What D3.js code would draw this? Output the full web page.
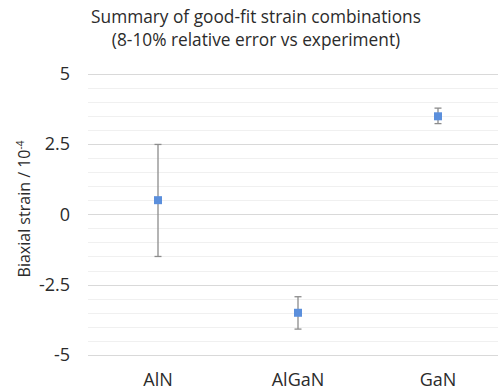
<!DOCTYPE html>
<html>
<head>
<meta charset="utf-8">
<script src="https://cdn.jsdelivr.net/npm/d3@7"></script>
<style>
  html, body { margin: 0; padding: 0; background: #fff; }
  svg { display: block; }
  text { font-family: "Open Sans", "Liberation Sans", sans-serif; fill: #2b2b2b; }
</style>
</head>
<body>
<svg id="chart" width="498" height="392"></svg>
<script>
// Material categories and strain summary (units of 1e-4)
const categories = ["AlN", "AlGaN", "GaN"];
const meanStrain = [0.5, -3.5, 3.48];
const upperStrain = [2.48, -2.93, 3.77];
const lowerStrain = [-1.5, -4.08, 3.22];
const yTicks = [-5, -2.5, 0, 2.5, 5];
const titleLines = ["Summary of good-fit strain combinations", "(8-10% relative error vs experiment)"];

const svg = d3.select("#chart");

const x = d3.scaleBand().domain(categories).range([88, 508]).padding(0);
const y = d3.scaleLinear().domain([-5, 5]).range([355, 73.5]);

// minor gridlines every 0.5
const minor = d3.range(-5, 5.01, 0.5).filter(v => !yTicks.some(t => Math.abs(t - v) < 1e-9));
svg.append("g").selectAll("line").data(minor).join("line")
  .attr("x1", 88).attr("x2", 508)
  .attr("y1", d => Math.round(y(d)) + 0.5).attr("y2", d => Math.round(y(d)) + 0.5)
  .attr("stroke", "#f0f0f0").attr("stroke-width", 1);

// major gridlines
svg.append("g").selectAll("line").data(yTicks).join("line")
  .attr("x1", 88).attr("x2", 508)
  .attr("y1", d => Math.round(y(d)) + 0.5).attr("y2", d => Math.round(y(d)) + 0.5)
  .attr("stroke", "#d9d9d9").attr("stroke-width", 1);

// y axis tick labels
const yAxis = d3.axisLeft(y).tickValues(yTicks).tickSize(0).tickPadding(0)
  .tickFormat(d => String(d));
const gy = svg.append("g").attr("transform", "translate(70,0)").call(yAxis);
gy.select(".domain").remove();
gy.selectAll("text").style("font-size", "18px").attr("fill", "#2b2b2b")
  .style("font-family", "'Open Sans', sans-serif");

// x axis category labels
const xAxis = d3.axisBottom(x).tickSize(0).tickPadding(0);
const gx = svg.append("g").attr("transform", "translate(0,373)").call(xAxis);
gx.select(".domain").remove();
gx.selectAll("text").style("font-size", "18px").attr("fill", "#2b2b2b")
  .style("font-family", "'Open Sans', sans-serif");

const pts = categories.map((c, i) => ({ c, m: meanStrain[i], hi: upperStrain[i], lo: lowerStrain[i] }));
const cx = d => x(d.c) + x.bandwidth() / 2;

// error bars
const eb = svg.append("g").attr("stroke", "#8c8c8c").attr("stroke-width", 1.3);
eb.selectAll("line.v").data(pts).join("line").attr("class", "v")
  .attr("x1", cx).attr("x2", cx).attr("y1", d => y(d.hi)).attr("y2", d => y(d.lo));
eb.selectAll("line.t").data(pts).join("line").attr("class", "t")
  .attr("x1", d => cx(d) - 3.5).attr("x2", d => cx(d) + 3.5)
  .attr("y1", d => y(d.hi)).attr("y2", d => y(d.hi));
eb.selectAll("line.b").data(pts).join("line").attr("class", "b")
  .attr("x1", d => cx(d) - 3.5).attr("x2", d => cx(d) + 3.5)
  .attr("y1", d => y(d.lo)).attr("y2", d => y(d.lo));

// square markers
svg.append("g").selectAll("rect").data(pts).join("rect")
  .attr("x", d => cx(d) - 4).attr("y", d => y(d.m) - 4)
  .attr("width", 8).attr("height", 8)
  .attr("fill", "#5b8fdc");

// title
svg.append("g").selectAll("text").data(titleLines).join("text")
  .attr("x", 256).attr("y", (d, i) => 23 + i * 23)
  .attr("text-anchor", "middle")
  .style("font-size", "17.3px")
  .text(d => d);

// y axis title with superscript
const yt = svg.append("text")
  .attr("transform", "translate(30,209) rotate(-90)")
  .attr("text-anchor", "middle")
  .style("font-size", "16px");
yt.append("tspan").text("Biaxial strain / 10");
yt.append("tspan").attr("dy", -6).style("font-size", "10px").text("-4");
</script>
</body>
</html>
